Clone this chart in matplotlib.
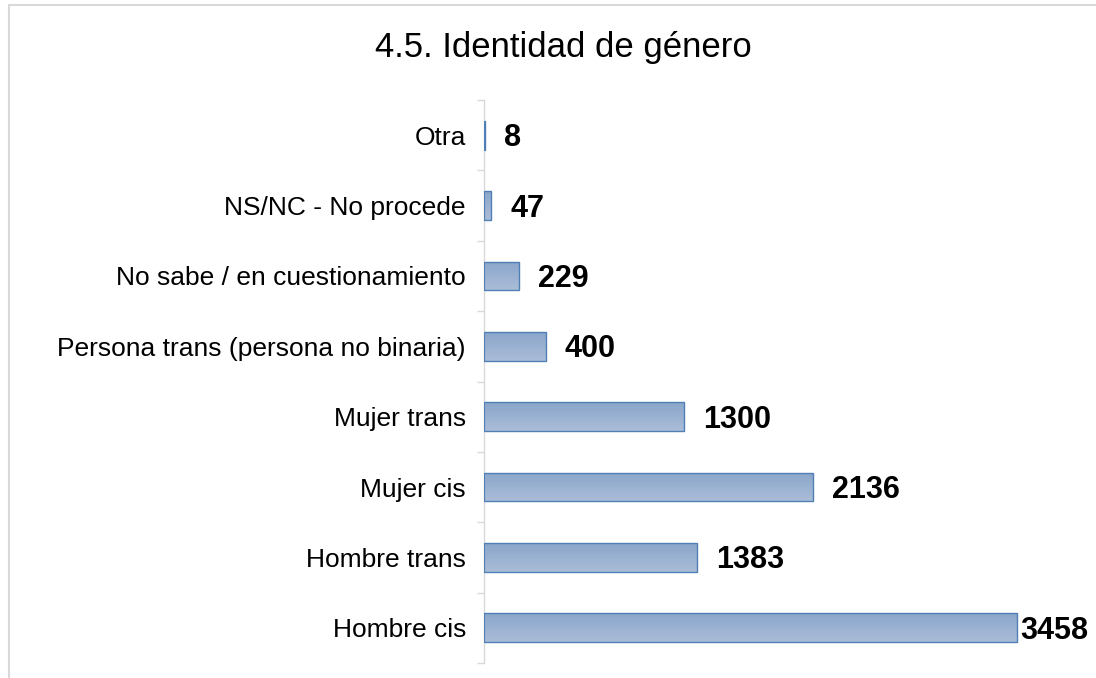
import matplotlib
matplotlib.use("Agg")
import matplotlib.pyplot as plt
import numpy as np
from matplotlib.patches import Rectangle
from matplotlib.colors import LinearSegmentedColormap

plt.rcParams['font.family'] = ['Liberation Sans', 'DejaVu Sans']

categories = ["Hombre cis", "Hombre trans", "Mujer cis", "Mujer trans",
              "Persona trans (persona no binaria)", "No sabe / en cuestionamiento",
              "NS/NC - No procede", "Otra"]
values = [3458, 1383, 2136, 1300, 400, 229, 47, 8]
title = "4.5. Identidad de género"

W, H = 1096, 678
fig = plt.figure(figsize=(W/100, H/100), dpi=100)

# outer chart frame (cropped on the right and bottom)
fig.patches.append(Rectangle((9/W, -0.1), 1.2, (H-5)/H + 0.1, transform=fig.transFigure,
                             fill=False, edgecolor='#d9d9d9', linewidth=1.5))

ax_left, ax_right = 484, 1096
ax_top, ax_bottom = 100, 663
ax = fig.add_axes([ax_left/W, 1 - ax_bottom/H, (ax_right-ax_left)/W, (ax_bottom-ax_top)/H])
xmax = (ax_right-ax_left)/0.1542
ax.set_xlim(0, xmax)
ax.set_ylim(-0.5, len(categories)-0.5)

y = np.arange(len(categories))
bh = 0.41
bars = ax.barh(y, values, height=bh, color='none', edgecolor='#4f7fb5', linewidth=1.0, zorder=3)

cmap = LinearSegmentedColormap.from_list('g', ['#aabdd8', '#8aa6ca'])
grad = np.linspace(0, 1, 64).reshape(-1, 1)
for b in bars:
    x0, y0 = b.get_x(), b.get_y()
    w, h = b.get_width(), b.get_height()
    im = ax.imshow(grad, cmap=cmap, aspect='auto', extent=(x0, x0+w, y0+h, y0),
                   origin='upper', zorder=2, interpolation='bicubic')
    im.set_clip_path(b)

ax.set_xlim(0, xmax)
ax.set_ylim(-0.5, len(categories)-0.5)

for yi, v in zip(y, values):
    end_px = ax_left + v*0.1542
    off = 3 if end_px + 85 > W else 19
    ax.annotate(str(v), (v, yi), xytext=(off, -3), textcoords='offset pixels',
                ha='left', va='center', fontsize=22, fontweight='bold', color='black')

ax.set_yticks(y)
ax.set_yticklabels(categories, fontsize=19)
ax.set_yticks(np.arange(-0.5, len(categories)), minor=True)
ax.tick_params(axis='y', which='major', length=0, pad=13)
ax.tick_params(axis='y', which='minor', length=5, color='#d9d9d9', width=1)
ax.set_xticks([])
for s in ['top', 'right', 'bottom']:
    ax.spines[s].set_visible(False)
ax.spines['left'].set_color('#d9d9d9')
ax.spines['left'].set_linewidth(1)
ax.patch.set_alpha(0)

fig.text(563/W, 1 - 47/H, title, ha='center', va='center', fontsize=25)

fig.savefig("out.png", dpi=100)
